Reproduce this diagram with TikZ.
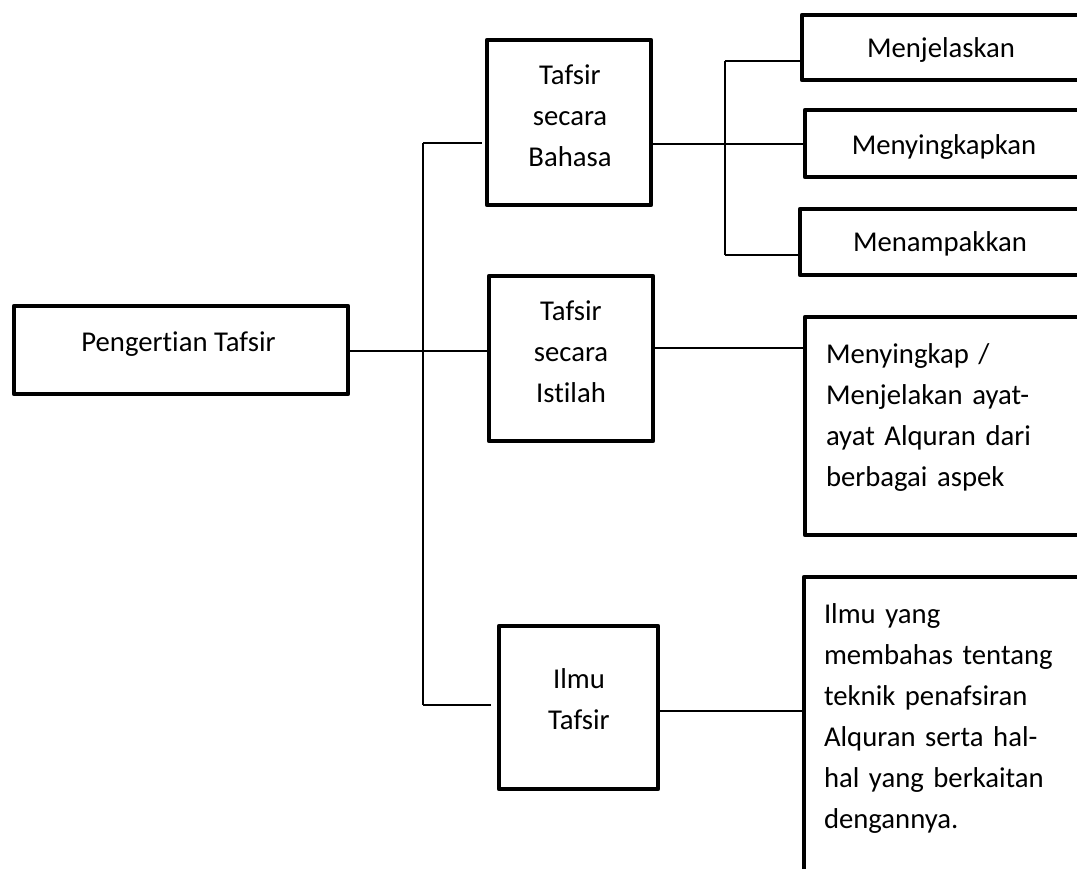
\documentclass[tikz,border=0pt]{standalone}
\usepackage{fontspec}
\setmainfont{Carlito}[Ligatures={NoCommon}]
\begin{document}
\begin{tikzpicture}[x=1pt,y=-1pt,
  box/.style={draw, line width=4.5pt, line join=round, inner sep=0pt, outer sep=0pt},
  conn/.style={line width=1.8pt},
  lbl/.style={inner sep=0pt, outer sep=0pt, font=\fontsize{28.7}{41}\selectfont},
  ]
\useasboundingbox (0,0) rectangle (1077,869);
\clip (0,0) rectangle (1077,869);
% boxes
\node[box, minimum width=334pt, minimum height=88pt] (P) at (181,350) {};
\node[box, minimum width=164pt, minimum height=165pt] (B) at (569,122.5) {};
\node[box, minimum width=164pt, minimum height=165pt] (I) at (571,358.5) {};
\node[box, minimum width=159pt, minimum height=163pt] (T) at (578.5,707.5) {};
\node[box, minimum width=288pt, minimum height=65pt] (M1) at (946,47.5) {};
\node[box, minimum width=285pt, minimum height=67pt] (M2) at (947.5,143.5) {};
\node[box, minimum width=290pt, minimum height=66pt] (M3) at (945,242) {};
\node[box, minimum width=285pt, minimum height=218pt] (S) at (947.5,426) {};
\node[box, minimum width=286pt, minimum height=313pt] (L) at (947,733.5) {};
% texts
\node[lbl, anchor=base] (tP) at (178.5,352) {Pengertian Tafsir};
\node[lbl, anchor=base, text width=160pt, align=center] (tB) at (570,85) {Tafsir\\secara\\Bahasa};
\node[lbl, anchor=base, text width=160pt, align=center] (tI) at (571,320) {Tafsir\\secara\\Istilah};
\node[lbl, anchor=base, text width=155pt, align=center] (tT) at (579,688) {Ilmu\\Tafsir};
\node[lbl, anchor=base] (tM1) at (941,58) {Menjelaskan};
\node[lbl, anchor=base] (tM2) at (944,155) {Menyingkapkan};
\node[lbl, anchor=base] (tM3) at (940,252) {Menampakkan};
\node[lbl, anchor=base west, text width=250pt, align=left] (tS) at (826,363)
  {Menyingkap /\\Menjelakan ayat-\\ayat Alquran dari\\berbagai aspek};
\node[lbl, anchor=base west, text width=250pt, align=left] (tL) at (824,623)
  {Ilmu yang\\membahas tentang\\teknik penafsiran\\Alquran serta hal-\\hal yang berkaitan\\dengannya.};
% junction coordinates
\coordinate (j1) at (423,143);
\coordinate (j2) at (423,705);
\coordinate (pj) at (423,351);
\coordinate (bj) at (725,144);
\coordinate (k1) at (725,61);
\coordinate (k2) at (725,255);
\coordinate (ir) at (730,348);
\coordinate (tr) at (730,711);
% connectors
\draw[conn] (P.east |- pj) -- (pj -| I.west);
\draw[conn] (j1) -- (j2);
\draw[conn, shorten >=5pt] (j1) -- (j1 -| B.west);
\draw[conn, shorten >=8pt] (j2) -- (j2 -| T.west);
\draw[conn] (B.east |- bj) -- (bj -| M2.west);
\draw[conn] (k1) -- (k2);
\draw[conn] (k1) -- (k1 -| M1.west);
\draw[conn] (k2) -- (k2 -| M3.west);
\draw[conn] (I.east |- ir) -- (ir -| S.west);
\draw[conn] (T.east |- tr) -- (tr -| L.west);
\end{tikzpicture}
\end{document}
